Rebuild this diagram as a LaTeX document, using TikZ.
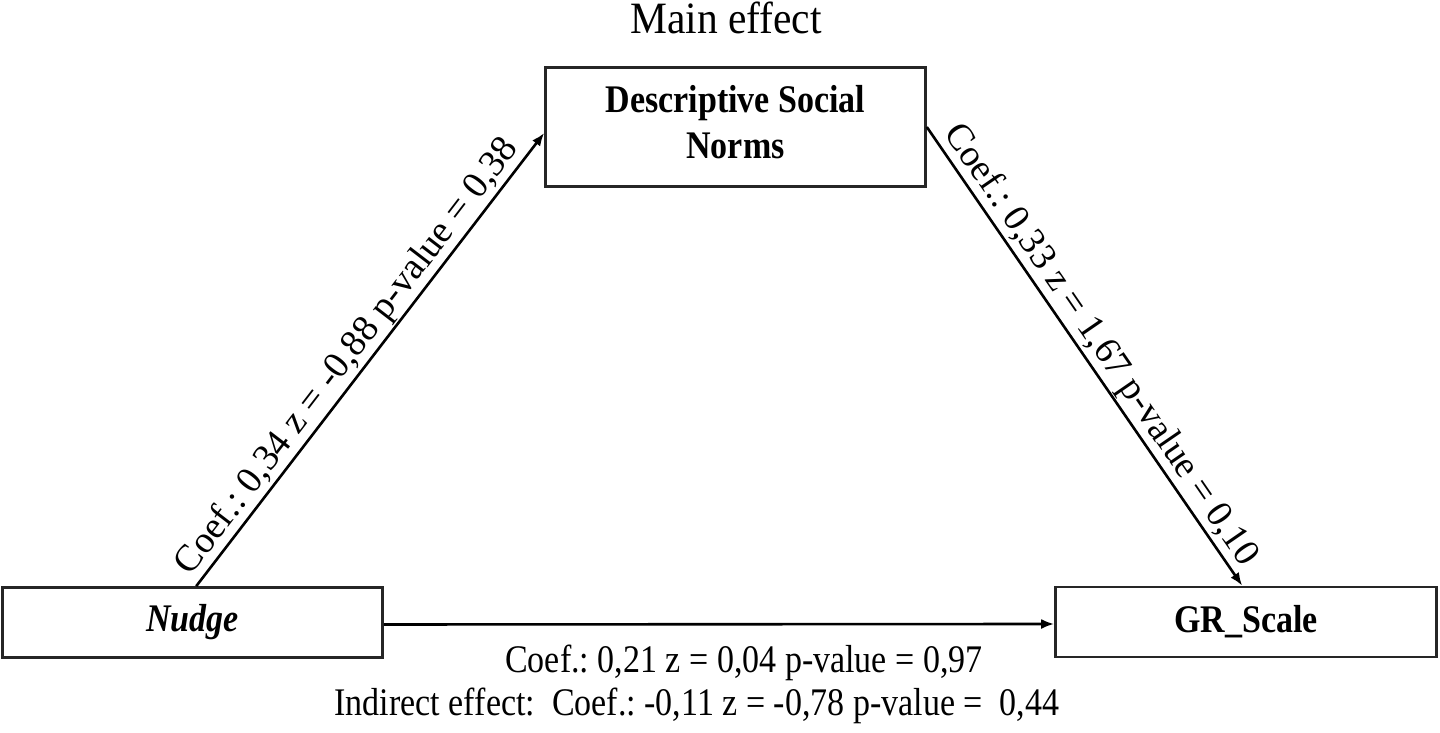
\documentclass[tikz,border=0pt]{standalone}
\usepackage{fontspec}
\usepackage{graphicx}
\setmainfont{Liberation Serif}
\usetikzlibrary{arrows.meta,calc}
\newcommand\vst[1]{\scalebox{1}[1.15]{#1}}
\begin{document}
\frenchspacing
\begin{tikzpicture}[x=1pt,y=1pt,
  box/.style={draw=black!85,line width=2.6pt,rectangle,inner sep=0pt,fill=white},
  conn/.style={draw=black,line width=2.6pt,-{Latex[length=13pt,width=10pt]}},
  lab/.style={font=\fontsize{34}{37}\selectfont,inner sep=2pt},
  slab/.style={font=\fontsize{37.5}{40}\selectfont,inner sep=1pt},
  boxtext/.style={font=\fontsize{34}{37}\selectfont\bfseries}
]
\useasboundingbox[fill=white] (0,0) rectangle (1440,733);

\node[box,minimum width=380pt,minimum height=119pt,boxtext] (dsn) at (735.5,606)
  {\vst{\begin{tabular}{@{}c@{}}Descriptive Social\\[3pt]Norms\end{tabular}}};
\node[box,minimum width=380pt,minimum height=70pt,boxtext] (nudge) at (192.5,110.5)
  {\vst{\itshape Nudge}};
\node[box,minimum width=381pt,minimum height=70pt,boxtext] (gr) at (1246,111)
  {\vst{GR\_Scale}};

\node[font=\fontsize{41.5}{44}\selectfont,inner sep=0pt] (title) at (726,715) {\scalebox{1}[1.08]{Main effect}};

\draw[conn] ([xshift=195pt]nudge.north west) -- node[slab,sloped,above,pos=0.48] {Coef.: 0,34 z = -0,88 p-value = 0,38} ([yshift=-6pt]dsn.west);
\draw[conn] (dsn.east) -- node[slab,sloped,above,pos=0.5] {Coef.: 0,33 z = 1,67 p-value = 0,10} ([xshift=188pt]gr.north west);
\draw[conn] ([yshift=-2pt]nudge.east) -- ([yshift=-2pt]gr.west);

\node[lab] (direct) at (744,70) {\vst{Coef.: 0,21 z = 0,04 p-value = 0,97}};
\node[lab] (indirect) at (697,27) {\vst{Indirect effect:\ \ Coef.: -0,11 z = -0,78 p-value = \ 0,44}};
\end{tikzpicture}
\end{document}
